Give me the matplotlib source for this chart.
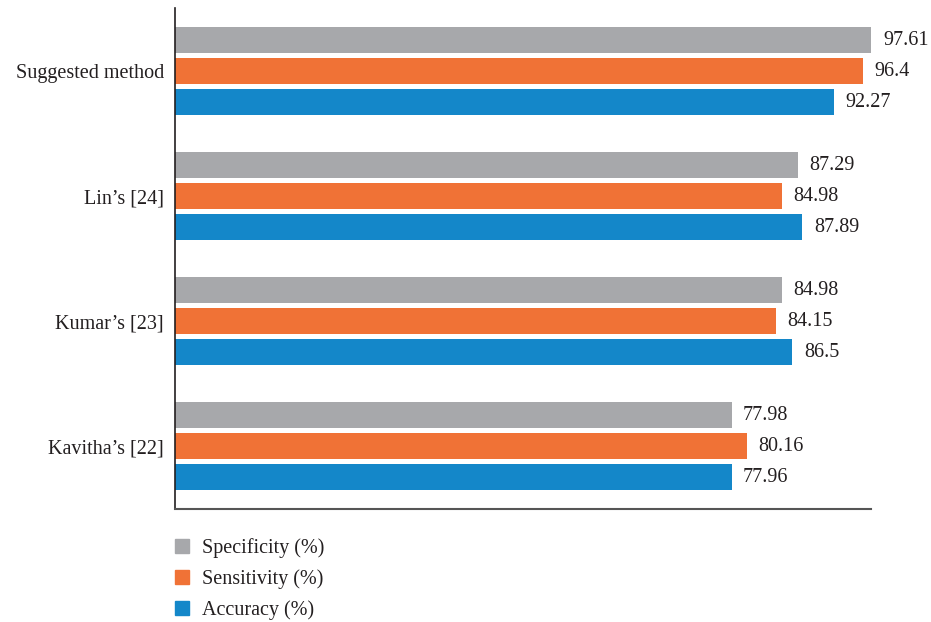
import matplotlib
matplotlib.use("Agg")
import matplotlib.pyplot as plt
from matplotlib.lines import Line2D
import numpy as np

methods = ["Suggested method", "Lin\u2019s [24]", "Kumar\u2019s [23]", "Kavitha\u2019s [22]"]
series_names = ["Specificity (%)", "Sensitivity (%)", "Accuracy (%)"]
specificity = [97.61, 87.29, 84.98, 77.98]
sensitivity = [96.4, 84.98, 84.15, 80.16]
accuracy = [92.27, 87.89, 86.5, 77.96]
colors = ["#A7A8AB", "#F07236", "#1487C9"]

plt.rcParams["font.family"] = ["Liberation Serif", "DejaVu Serif"]
fs = 14.5

fig = plt.figure(figsize=(9.31, 6.22), dpi=100)
ax = fig.add_axes([175/931, 1-509/622, (871-175)/931, (509-8)/622])

n = len(methods)
centers = np.arange(n)[::-1].astype(float)
off = 0.248
h = 0.208
for i, (vals, c) in enumerate(zip([specificity, sensitivity, accuracy], colors)):
    y = centers + off * (1 - i)
    ax.barh(y, vals, height=h, color=c)
    for yy, v in zip(y, vals):
        ax.text(v + 1.6, yy, f"{v:g}", va="center", ha="left", fontsize=fs, color="#231F20")

ax.set_xlim(0, 97.5)
ax.set_ylim(-0.504, 3.504)
ax.set_yticks(centers)
ax.set_yticklabels(methods, fontsize=fs, color="#231F20")
ax.tick_params(axis="y", length=0, pad=8)
ax.set_xticks([])
for s in ["top", "right"]:
    ax.spines[s].set_visible(False)
ax.spines["left"].set_color("#231F20")
ax.spines["bottom"].set_color("#555555")
ax.spines["left"].set_linewidth(1.2)
ax.spines["bottom"].set_linewidth(1.5)

handles = [Line2D([0], [0], marker="s", linestyle="none", markersize=9.8,
                  markerfacecolor=c, markeredgecolor=c) for c in colors]
fig.legend(handles, series_names, loc="upper left", bbox_to_anchor=(162/931, 1-528/622),
           frameon=False, fontsize=fs, handlelength=1.0, handletextpad=0.5,
           labelspacing=0.55, borderpad=0, labelcolor="#231F20")

fig.savefig("out.png", dpi=100)
